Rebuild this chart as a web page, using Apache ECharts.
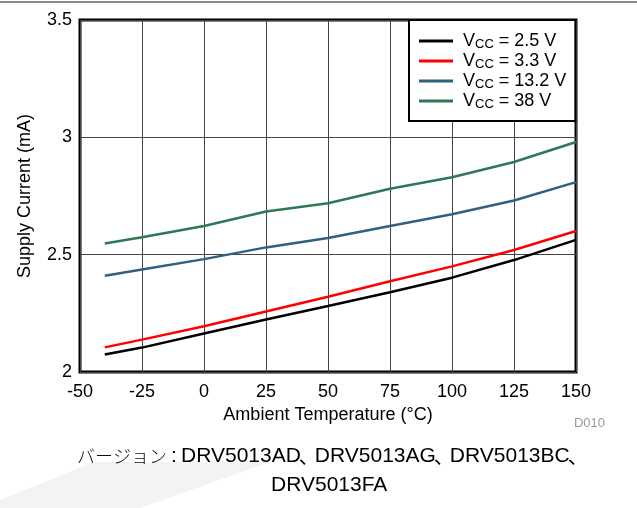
<!DOCTYPE html>
<html>
<head>
<meta charset="utf-8">
<script src="https://cdn.jsdelivr.net/npm/echarts@6/dist/echarts.min.js"></script>
<style>
html,body{margin:0;padding:0;background:#fff;}
#chart{width:637px;height:508px;}
</style>
</head>
<body>
<div id="chart"></div>
<script>
var temperatures = [-40, -25, 0, 25, 50, 75, 100, 125, 150];
var vcc25 = [2.075, 2.104, 2.164, 2.224, 2.281, 2.340, 2.402, 2.477, 2.563];
var vcc33 = [2.105, 2.138, 2.195, 2.258, 2.321, 2.387, 2.450, 2.520, 2.601];
var vcc132 = [2.410, 2.437, 2.481, 2.531, 2.571, 2.622, 2.672, 2.731, 2.809];
var vcc38 = [2.548, 2.574, 2.622, 2.684, 2.719, 2.781, 2.830, 2.895, 2.980];
var seriesNames = ['2.5 V', '3.3 V', '13.2 V', '38 V'];
var seriesColors = ['#000000', '#ff0000', '#2f6180', '#2f7853'];
var xTitle = 'Ambient Temperature (°C)';
var yTitle = 'Supply Current (mA)';
var captionPrefix = 'バージョン';
var captionParts = ['DRV5013AD', 'DRV5013AG', 'DRV5013BC'];
var captionLine2 = 'DRV5013FA';
var figId = 'D010';

var FONT = '"Liberation Sans", Arial, "Noto Sans CJK JP", sans-serif';
function pairs(ys) { return temperatures.map(function (t, i) { return [t, ys[i]]; }); }
var allData = [vcc25, vcc33, vcc132, vcc38];

var line1 = '{k|' + captionPrefix + '}{colon|:}' + captionParts.map(function (p) { return '{l|' + p + '}{c|、}'; }).join('');

var chart = echarts.init(document.getElementById('chart'), null, {renderer: 'canvas'});
chart.setOption({
  animation: false,
  backgroundColor: '#ffffff',
  grid: {left: 80, right: 61, top: 20, bottom: 136, show: true, borderColor: '#000', borderWidth: 3, backgroundColor: 'transparent'},
  xAxis: {
    type: 'value', min: -50, max: 150, interval: 25,
    name: xTitle, nameLocation: 'middle', nameGap: 31,
    nameTextStyle: {fontFamily: FONT, fontSize: 18, color: '#000'},
    axisLine: {show: false}, axisTick: {show: false},
    axisLabel: {fontFamily: FONT, fontSize: 18, color: '#000', margin: 11},
    splitLine: {show: true, lineStyle: {color: '#444', width: 1}}
  },
  yAxis: {
    type: 'value', min: 2, max: 3.5, interval: 0.5,
    name: yTitle, nameLocation: 'middle', nameGap: 46,
    nameTextStyle: {fontFamily: FONT, fontSize: 18, color: '#000'},
    axisLine: {show: false}, axisTick: {show: false},
    axisLabel: {fontFamily: FONT, fontSize: 18, color: '#000', margin: 8},
    splitLine: {show: true, lineStyle: {color: '#444', width: 1}}
  },
  legend: {
    orient: 'vertical', left: 409, top: 20,
    backgroundColor: '#fff', borderColor: '#000', borderWidth: 2,
    padding: [11, 9, 10, 10],
    itemWidth: 34, itemHeight: 3, itemGap: 0, icon: 'rect',
    data: seriesNames.map(function (n) { return n; }),
    formatter: function (n) { return '{g|}V{sub|CC} = ' + n; },
    textStyle: {
      fontFamily: FONT, fontSize: 18, color: '#000', lineHeight: 20,
      rich: {
        g: {width: 5},
        sub: {fontFamily: FONT, fontSize: 13, color: '#000', padding: [6, 0, 0, 0], lineHeight: 20}
      }
    }
  },
  series: allData.map(function (d, i) {
    return {
      name: seriesNames[i], type: 'line', data: pairs(d), symbol: 'none', smooth: false,
      lineStyle: {color: seriesColors[i], width: 2.5}, itemStyle: {color: seriesColors[i]}, z: 3
    };
  }),
  graphic: [
    {type: 'polygon', z: -10, shape: {points: [[94, 462], [270, 462], [140, 508], [0, 508], [0, 500]]}, style: {fill: '#f3f3f3'}},
    {type: 'rect', shape: {x: 0, y: 1, width: 637, height: 2}, style: {fill: '#888'}},
    {type: 'text', x: 605, y: 423, style: {text: figId, font: '13px ' + FONT, fill: '#9a9a9a', align: 'right', verticalAlign: 'middle'}},
    {type: 'text', x: 77, y: 456, style: {
      text: line1, align: 'left', verticalAlign: 'middle', fill: '#000',
      rich: {
        k: {fontFamily: '"Noto Sans CJK JP", sans-serif', fontSize: 18, fontWeight: 300, fill: '#111', verticalAlign: 'middle', lineHeight: 26},
        colon: {fontFamily: FONT, fontSize: 21, width: 14, align: 'center', fill: '#000', verticalAlign: 'middle', lineHeight: 26},
        l: {fontFamily: FONT, fontSize: 21, fill: '#000', verticalAlign: 'middle', lineHeight: 26},
        c: {fontFamily: '"Noto Sans CJK JP", sans-serif', fontSize: 20, width: 12, padding: [0, 0, 0, 2], fill: '#000', verticalAlign: 'middle', lineHeight: 26}
      }
    }},
    {type: 'text', x: 271, y: 485, style: {text: captionLine2, font: '21px ' + FONT, fill: '#000', align: 'left', verticalAlign: 'middle'}}
  ]
});
</script>
</body>
</html>
